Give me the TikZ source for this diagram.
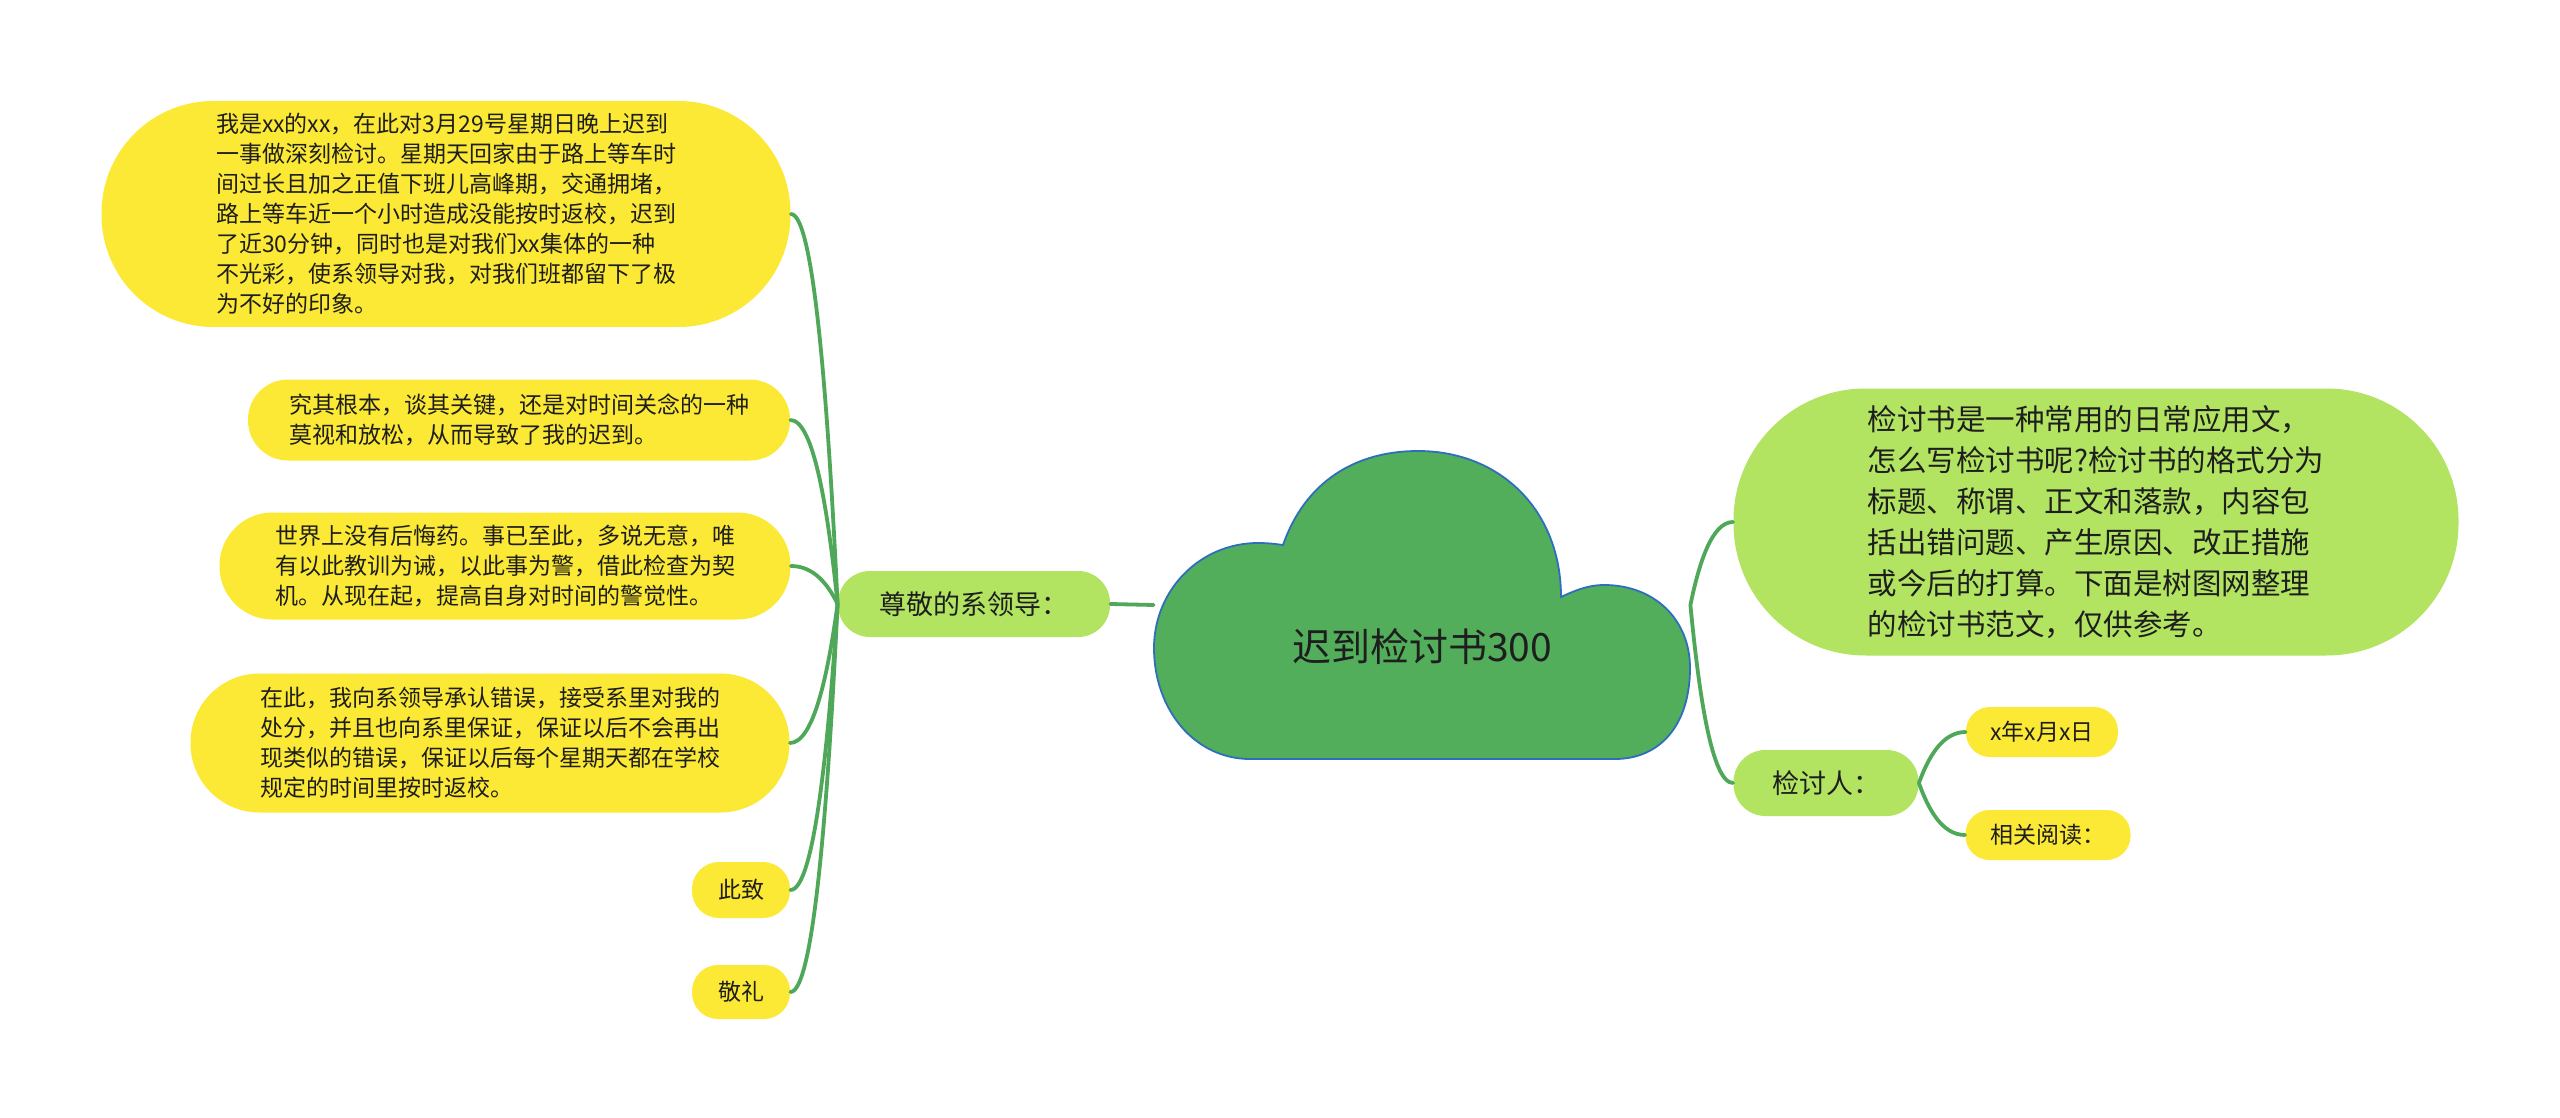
\documentclass[tikz,border=0pt]{standalone}
\usepackage{fontspec}
\newfontfamily\cjk{Noto Sans CJK SC}
\usetikzlibrary{calc}
\definecolor{yel}{HTML}{FCE935}
\definecolor{lgreen}{HTML}{B2E462}
\definecolor{cgreen}{HTML}{52AE5B}
\definecolor{lnk}{HTML}{4FA85A}
\definecolor{cborder}{HTML}{2F6EBA}
\definecolor{txt}{HTML}{1E1E1E}
\tikzset{
  pill/.style={draw=none, inner sep=0pt, align=left, text=txt,
    font=\cjk\fontsize{11.5pt}{15pt}\selectfont},
  yelbox/.style={pill, fill=yel},
  grnbox/.style={pill, fill=lgreen},
  link/.style={draw=lnk, line width=1.9pt, line cap=round},
}
\newcommand\mmlink[2]{\draw[link] (#1) let \p1=(#1), \p2=(#2) in
  .. controls ({\x1+0.2*(\x2-\x1)},{\y1+0.5*(\y2-\y1)}) and ({0.5*(\x1+\x2)},\y2) .. (\p2);}
\begin{document}
\begin{tikzpicture}[x=0.5pt,y=-0.5pt]
\useasboundingbox[fill=white] (0,0) rectangle (2560,1118);

% cloud
\draw[fill=cgreen, draw=cborder, line width=0.9pt]
  (1283,545) .. controls (1305,482) and (1355,451) .. (1418,451)
  .. controls (1500,451) and (1561,510) .. (1561,597)
  .. controls (1578,589) and (1590,585) .. (1604,585)
  .. controls (1655,585) and (1690,620) .. (1690,668)
  .. controls (1690,725) and (1660,759) .. (1615,759)
  -- (1250,759)
  .. controls (1195,759) and (1154,710) .. (1154,648)
  .. controls (1154,590) and (1200,543) .. (1258,543)
  .. controls (1268,543) and (1276,544) .. cycle;
\node[draw=none, minimum width=268pt, minimum height=154pt, inner sep=0pt] (root) at (1422,605) {};
\node[text=txt, font=\cjk\fontsize{19.5pt}{23pt}\selectfont, inner sep=0pt] (title) at (1422,647) {迟到检讨书300};

% left side
\node[grnbox, font=\cjk\fontsize{13.5pt}{17pt}\selectfont, minimum width=136pt, minimum height=33pt, rounded corners=16pt, align=center] (zj) at (974,604) {尊敬的系领导：};

\node[yelbox, minimum width=344.5pt, minimum height=113pt, rounded corners=56pt] (n1) at (446,214) {我是xx的xx，在此对3月29号星期日晚上迟到\\一事做深刻检讨。星期天回家由于路上等车时\\间过长且加之正值下班儿高峰期，交通拥堵，\\路上等车近一个小时造成没能按时返校，迟到\\了近30分钟，同时也是对我们xx集体的一种\\不光彩，使系领导对我，对我们班都留下了极\\为不好的印象。};

\node[yelbox, minimum width=271pt, minimum height=40.5pt, rounded corners=20pt] (n2) at (519,420) {究其根本，谈其关键，还是对时间关念的一种\\莫视和放松，从而导致了我的迟到。};

\node[yelbox, minimum width=285.5pt, minimum height=53.5pt, rounded corners=26.5pt] (n3) at (505,566) {世界上没有后悔药。事已至此，多说无意，唯\\有以此教训为诫，以此事为警，借此检查为契\\机。从现在起，提高自身对时间的警觉性。};

\node[yelbox, minimum width=299.5pt, minimum height=69.5pt, rounded corners=34.5pt] (n4) at (490,743) {在此，我向系领导承认错误，接受系里对我的\\处分，并且也向系里保证，保证以后不会再出\\现类似的错误，保证以后每个星期天都在学校\\规定的时间里按时返校。};

\node[yelbox, minimum width=49pt, minimum height=28pt, rounded corners=13.5pt, align=center] (cz) at (741,890) {此致};
\node[yelbox, minimum width=49pt, minimum height=27pt, rounded corners=13pt, align=center] (jl) at (741,992) {敬礼};

% right side
\node[grnbox, font=\cjk\fontsize{14.75pt}{20.5pt}\selectfont, minimum width=362.5pt, minimum height=133.5pt, rounded corners=66pt] (intro) at (2096,522) {检讨书是一种常用的日常应用文，\\怎么写检讨书呢?检讨书的格式分为\\标题、称谓、正文和落款，内容包\\括出错问题、产生原因、改正措施\\或今后的打算。下面是树图网整理\\的检讨书范文，仅供参考。};

\node[grnbox, font=\cjk\fontsize{13.5pt}{17pt}\selectfont, minimum width=92.5pt, minimum height=33pt, rounded corners=16pt, align=center] (jtr) at (1826,783) {检讨人：};

\node[yelbox, minimum width=76pt, minimum height=25pt, rounded corners=12pt, align=center] (date) at (2042,732) {x年x月x日};
\node[yelbox, minimum width=82.5pt, minimum height=25pt, rounded corners=12pt, align=center] (xg) at (2048,835) {相关阅读：};

% connectors
\draw[link] (zj.east) -- (root.west);
\mmlink{zj.west}{n1.east}
\mmlink{zj.west}{n2.east}
\mmlink{zj.west}{n3.east}
\mmlink{zj.west}{n4.east}
\mmlink{zj.west}{cz.east}
\mmlink{zj.west}{jl.east}
\mmlink{root.east}{intro.west}
\mmlink{root.east}{jtr.west}
\mmlink{jtr.east}{date.west}
\mmlink{jtr.east}{xg.west}
\end{tikzpicture}
\end{document}
